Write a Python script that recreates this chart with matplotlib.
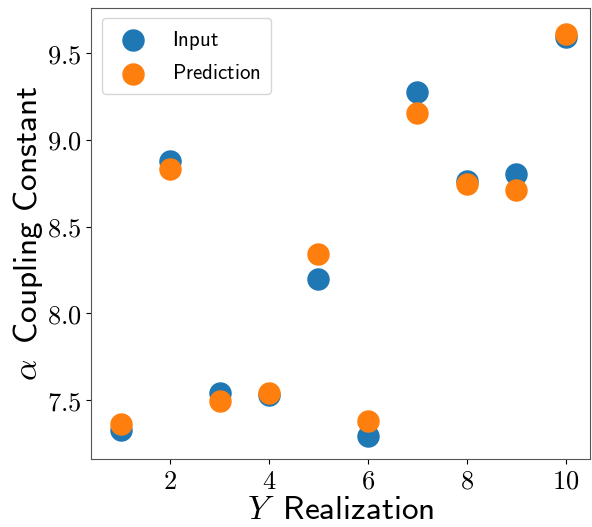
import numpy as np
import matplotlib
matplotlib.use("Agg")
import matplotlib.pyplot as plt
from matplotlib.ticker import FormatStrFormatter

plt.rcParams['mathtext.fontset'] = 'cm'

realization = [1, 2, 3, 4, 5, 6, 7, 8, 9, 10]
alpha_input = [7.327, 8.878, 7.539, 7.529, 8.196, 7.294, 9.273, 8.760, 8.801, 9.594]
alpha_pred  = [7.360, 8.830, 7.494, 7.542, 8.344, 7.379, 9.156, 8.747, 8.709, 9.608]

fig = plt.figure(figsize=(5.92, 5.27), dpi=100)
ax = fig.add_axes([0.154, 0.129, 0.843, 0.856])

ax.scatter(realization, alpha_input, s=230, color='#1f77b4', label=r'$\mathsf{Input}$')
ax.scatter(realization, alpha_pred, s=230, color='#ff7f0e', label=r'$\mathsf{Prediction}$')

ax.set_xlim(0.40, 10.5)
ax.set_ylim(7.16, 9.76)
ax.set_xticks([2, 4, 6, 8, 10])
ax.set_yticks([7.5, 8.0, 8.5, 9.0, 9.5])
ax.xaxis.set_major_formatter(FormatStrFormatter('$%d$'))
ax.yaxis.set_major_formatter(FormatStrFormatter('$%.1f$'))
ax.tick_params(labelsize=19)

ax.set_xlabel(r'$Y\;\;\mathsf{Realization}$', fontsize=24, labelpad=-1)
ax.set_ylabel(r'$\alpha\;\;\mathsf{Coupling\ Constant}$', fontsize=24, labelpad=1)

for sp in ax.spines.values():
    sp.set_color('#555555')

ax.legend(loc='upper left', fontsize=15, borderpad=0.5, handletextpad=0.9,
          labelspacing=0.55)

fig.savefig('out.png', dpi=100)
